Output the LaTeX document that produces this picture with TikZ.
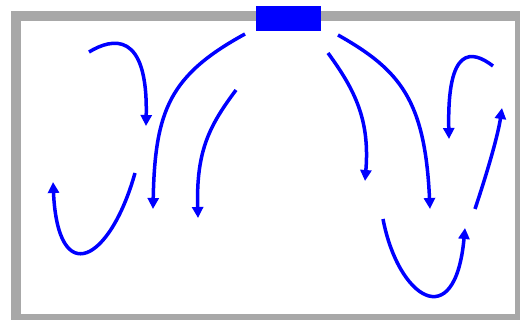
\documentclass[tikz,border=0pt]{standalone}
\usepackage{tikz}
\usetikzlibrary{arrows.meta}

\definecolor{wallgray}{RGB}{168,168,168}

\begin{document}
\begin{tikzpicture}[
    x=1pt, y=-1pt,
    wall/.style={draw=wallgray, line width=10pt},
    vent/.style={fill=blue, inner sep=0pt, minimum width=65pt, minimum height=25pt},
    flow/.style={draw=blue, line width=3.5pt, -{Triangle[length=11pt,width=11pt]}}
  ]
    \useasboundingbox (0,0) rectangle (520,320);
    % room outline and supply vent
    \draw[wall] (16,16) rectangle (520,319);
    \node[vent] (V) at (288.5,18.5) {};
    % main jets from the vent
    \draw[flow] (245,34) .. controls (170,75) and (155,110) .. (153,209);
    \draw[flow] (236,90) .. controls (210,125) and (196,150) .. (198,218);
    \draw[flow] (328,53) .. controls (355,90) and (370,120) .. (365,181);
    \draw[flow] (338,35) .. controls (400,70) and (425,100) .. (430,209);
    % recirculation near the walls
    \draw[flow] (89,52) .. controls (112,38) and (148,30) .. (146,126);
    \draw[flow] (135,173) .. controls (110,262) and (58,290) .. (53,182);
    \draw[flow] (493,66) .. controls (472,50) and (447,45) .. (449,139);
    \draw[flow] (383,219) .. controls (398,298) and (455,336) .. (465,228);
    \draw[flow] (475,209) .. controls (488,170) and (498,135) .. (502,108);
  \end{tikzpicture}
\end{document}
